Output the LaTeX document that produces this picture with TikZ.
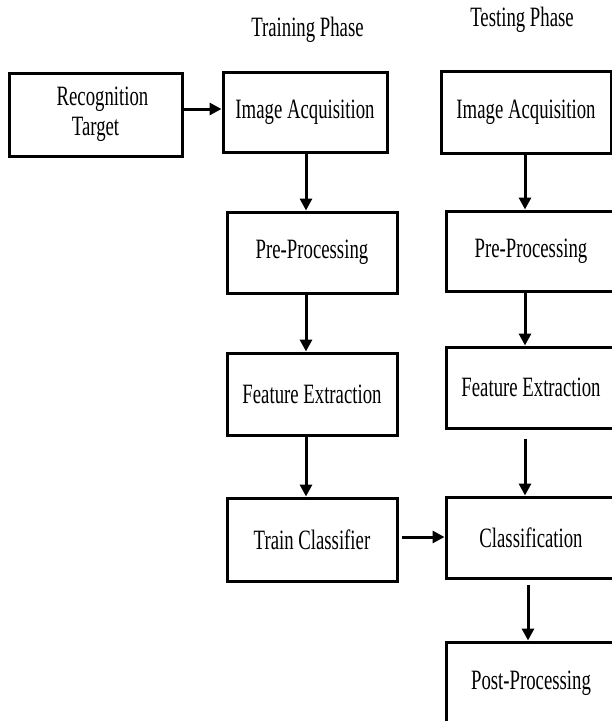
\documentclass[tikz,border=0pt]{standalone}
\usepackage{fontspec}
\setmainfont[FakeStretch=0.67]{Liberation Serif}
\usetikzlibrary{arrows.meta,calc}
\tikzset{
  box/.style={draw, line width=3pt, inner sep=0pt, align=center,
    font=\fontsize{28}{30}\selectfont},
  arr/.style={line width=3pt, -{Triangle[length=12pt,width=12pt]}},
  title/.style={inner sep=0pt, anchor=base, font=\fontsize{28}{30}\selectfont}
}
\begin{document}
\begin{tikzpicture}[x=1pt,y=-1pt]
\useasboundingbox (0,0) rectangle (612,721);
\clip (0,0) rectangle (612,721);
\fill[white] (0,0) rectangle (612,721);
% titles
\node[title] (ttrain) at (307.5,36) {Training Phase};
\node[title] (ttest) at (522,26) {Testing Phase};
% left box
\node[box, minimum width=173pt, minimum height=83pt] (rt) at (95.5,114.5) {\hspace*{14pt}Recognition\\Target};
% training column
\node[box, minimum width=164pt, minimum height=80pt] (tia) at (305,112) {Image Acquisition};
\node[box, minimum width=170pt, minimum height=81pt] (tpp) at (312,252.5) {Pre-Processing};
\node[box, minimum width=170pt, minimum height=82pt] (tfe) at (312,394) {Feature Extraction};
\node[box, minimum width=170pt, minimum height=83pt] (ttc) at (312,539.5) {Train Classifier};
% testing column
\node[box, minimum width=170pt, minimum height=82pt] (sia) at (526,112) {Image Acquisition};
\node[box, minimum width=170pt, minimum height=80pt] (spp) at (531,251) {Pre-Processing};
\node[box, minimum width=170pt, minimum height=81pt] (sfe) at (531,387.5) {Feature Extraction};
\node[box, minimum width=170pt, minimum height=81pt] (scl) at (531,537.5) {Classification};
\node[box, minimum width=170pt, minimum height=82pt] (spo) at (531,683) {Post-Processing};
% reference coordinates
\coordinate (ta) at (306,0);
\coordinate (sa) at (525,0);
\coordinate (sb) at (528,0);
\coordinate (ya) at (0,109);
\coordinate (yb) at (0,537);
% connectors
\draw[arr] (rt.east |- ya) -- (tia.west |- ya);
\draw[arr] (tia.south -| ta) -- (tpp.north -| ta);
\draw[arr] (tpp.south -| ta) -- (tfe.north -| ta);
\draw[arr] (tfe.south -| ta) -- (ttc.north -| ta);
\draw[arr] ($(ttc.east |- yb)+(3,0)$) -- (scl.west |- yb);
\draw[arr] (sia.south -| sa) -- (spp.north -| sa);
\draw[arr] (spp.south -| sa) -- (sfe.north -| sa);
\draw[arr] ($(sfe.south -| sa)+(0,9)$) -- (scl.north -| sa);
\draw[arr] ($(scl.south -| sb)+(0,5)$) -- (spo.north -| sb);
\end{tikzpicture}
\end{document}
